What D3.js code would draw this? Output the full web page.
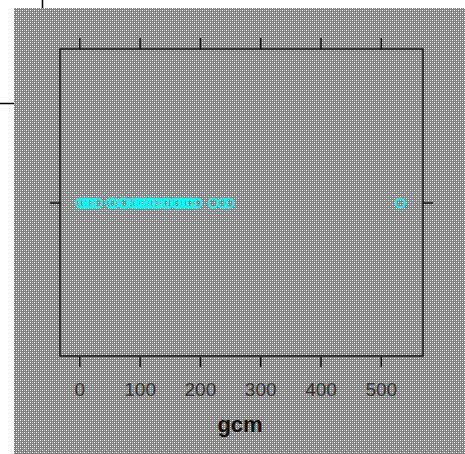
<!DOCTYPE html>
<html>
<head>
<meta charset="utf-8">
<script src="https://cdn.jsdelivr.net/npm/d3@7"></script>
<style>
  body { margin: 0; background: #fff; }
  svg { display: block; }
</style>
</head>
<body>
<div id="chart"></div>
<script>
// gcm values
const gcm = [2, 8, 14, 20, 30, 52, 58, 72, 76, 88, 95, 100, 105, 110, 118, 124,
  130, 140, 147, 160, 165, 172, 180, 186, 195, 222, 238, 248, 532];
const xTicks = [0, 100, 200, 300, 400, 500];
const xLabel = "gcm";

const W = 465;
const H = 454;

// panel box
const pLeft = 60, pRight = 423, pTop = 49, pBottom = 356;

const svg = d3.select("#chart")
  .append("svg")
  .attr("width", W)
  .attr("height", H);

// dotted gray background
const defs = svg.append("defs");
const pat = defs.append("pattern")
  .attr("id", "dots")
  .attr("width", 4)
  .attr("height", 4)
  .attr("patternUnits", "userSpaceOnUse");
pat.append("rect").attr("width", 4).attr("height", 4).attr("fill", "#808080");
pat.append("rect").attr("x", 0).attr("y", 0).attr("width", 1).attr("height", 1).attr("fill", "#ffffff");
pat.append("rect").attr("x", 2).attr("y", 0).attr("width", 1).attr("height", 1).attr("fill", "#c0c0c0");
pat.append("rect").attr("x", 0).attr("y", 2).attr("width", 1).attr("height", 1).attr("fill", "#c0c0c0");
pat.append("rect").attr("x", 2).attr("y", 2).attr("width", 1).attr("height", 1).attr("fill", "#ffffff");

svg.append("rect")
  .attr("x", 14)
  .attr("y", 8)
  .attr("width", W - 14)
  .attr("height", H - 8)
  .attr("fill", "url(#dots)");

// stray edge lines from the crop
svg.append("line")
  .attr("x1", 42.5).attr("x2", 42.5).attr("y1", 0).attr("y2", 8)
  .attr("stroke", "#000").attr("stroke-width", 1.5);
svg.append("line")
  .attr("x1", 0).attr("x2", 14).attr("y1", 103.5).attr("y2", 103.5)
  .attr("stroke", "#000").attr("stroke-width", 1.5);

// scales
const x = d3.scaleLinear()
  .domain([-32, 570])
  .range([pLeft, pRight]);
const yMid = 203;

// panel frame
svg.append("rect")
  .attr("x", pLeft)
  .attr("y", pTop)
  .attr("width", pRight - pLeft)
  .attr("height", pBottom - pTop)
  .attr("fill", "none")
  .attr("stroke", "#111")
  .attr("stroke-width", 1.5);

// x axes, bottom and top
const xAxisBottom = d3.axisBottom(x).tickValues(xTicks).tickSize(10).tickPadding(16);
const xAxisTop = d3.axisTop(x).tickValues(xTicks).tickSize(11).tickFormat("");

const gb = svg.append("g")
  .attr("transform", `translate(0, ${pBottom + 1})`)
  .call(xAxisBottom);
const gt = svg.append("g")
  .attr("transform", `translate(0, ${pTop})`)
  .call(xAxisTop);

[gb, gt].forEach((g) => {
  g.select(".domain").remove();
  g.selectAll(".tick line").attr("stroke", "#111").attr("stroke-width", 1.5);
});
gb.selectAll(".tick text")
  .attr("fill", "#333")
  .style("font-family", "Liberation Sans, Arial, sans-serif")
  .style("font-size", "19px");

// y ticks for the single row
svg.append("line")
  .attr("x1", pLeft - 10).attr("x2", pLeft).attr("y1", yMid).attr("y2", yMid)
  .attr("stroke", "#111").attr("stroke-width", 1.5);
svg.append("line")
  .attr("x1", pRight).attr("x2", pRight + 10).attr("y1", yMid).attr("y2", yMid)
  .attr("stroke", "#111").attr("stroke-width", 1.5);

// points
svg.selectAll(".pt")
  .data(gcm)
  .enter()
  .append("circle")
  .attr("class", "pt")
  .attr("cx", (d) => x(d))
  .attr("cy", yMid)
  .attr("r", 4.5)
  .attr("fill", "none")
  .attr("stroke", "#00ffff")
  .attr("stroke-width", 2);

// axis label
svg.append("text")
  .attr("x", 240)
  .attr("y", 432)
  .attr("text-anchor", "middle")
  .style("font-family", "Liberation Sans, Arial, sans-serif")
  .style("font-size", "22px")
  .style("font-weight", "bold")
  .attr("fill", "#111")
  .text(xLabel);
</script>
</body>
</html>
